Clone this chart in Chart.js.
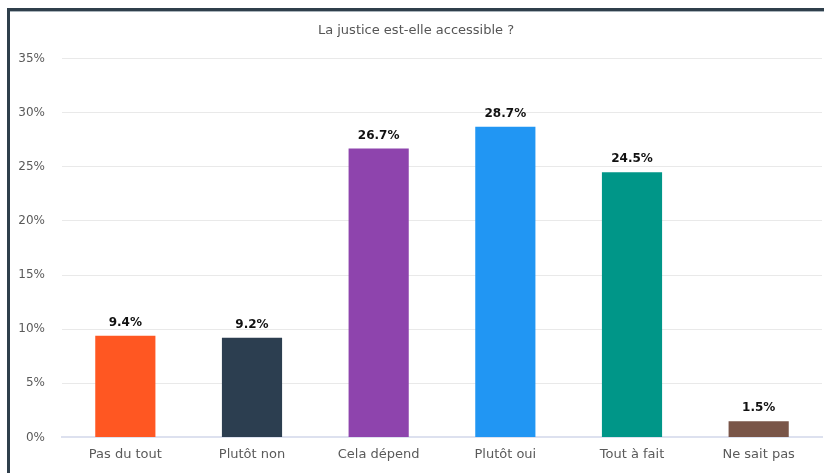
<!DOCTYPE html>
<html><head><meta charset="utf-8">
<script src="https://cdn.jsdelivr.net/npm/chart.js@4/dist/chart.umd.min.js"></script>
<style>
html,body{margin:0;padding:0;background:#fff;}
#frame{position:absolute;left:7px;top:8px;width:817px;height:465px;border-left:3px solid #2f3f4b;border-top:3px solid #2f3f4b;box-sizing:border-box;}
#frame:after{content:"";position:absolute;left:0;top:0;right:0;height:1px;background:#aab4bb;}
#wrap{position:absolute;left:10px;top:11px;width:814px;height:462px;}
</style></head>
<body>
<div id="frame"></div>
<div id="wrap"><canvas id="c" width="814" height="462"></canvas></div>
<script>
const categories = ["Pas du tout","Plutôt non","Cela dépend","Plutôt oui","Tout à fait","Ne sait pas"];
const values = [9.4, 9.2, 26.7, 28.7, 24.5, 1.5];
const barColors = ["#FF5722","#2C3E50","#8E44AD","#2196F3","#009688","#795548"];
const titleText = "La justice est-elle accessible ?";

const valueLabels = {
  id:'valueLabels',
  afterDatasetsDraw(chart){
    const ctx = chart.ctx;
    const meta = chart.getDatasetMeta(0);
    ctx.save();
    ctx.font = "bold 12px 'DejaVu Sans'";
    ctx.fillStyle = "#111";
    ctx.textAlign = "center";
    ctx.textBaseline = "bottom";
    meta.data.forEach((bar,i)=>{
      ctx.fillText(values[i].toFixed(1)+"%", bar.x, bar.y - 7);
    });
    ctx.restore();
  }
};

new Chart(document.getElementById('c'), {
  type:'bar',
  data:{labels:categories, datasets:[{data:values, backgroundColor:barColors, barPercentage:0.475, categoryPercentage:1}]},
  options:{
    responsive:false, animation:false,
    layout:{padding:{left:0,right:2,top:0,bottom:10}},
    plugins:{
      legend:{display:false}, tooltip:{enabled:false},
      title:{display:true, text:titleText, color:'#555', font:{family:"'DejaVu Sans'", size:13, weight:'normal'}, padding:{top:12,bottom:20}}
    },
    scales:{
      x:{grid:{display:false}, border:{color:'#dde1ef', width:2},
         ticks:{color:'#5a5a5a', font:{family:"'DejaVu Sans'", size:13}, padding:1}},
      y:{min:0, max:35, grid:{color:'#e9e9e9', drawTicks:false, lineWidth:1}, border:{display:false},
         afterFit(s){ s.width = 52; },
         ticks:{stepSize:5, color:'#5a5a5a', padding:17, font:{family:"'DejaVu Sans'", size:12}, callback:v=>v+'%'}}
    }
  },
  plugins:[valueLabels]
});
</script>
</body></html>
